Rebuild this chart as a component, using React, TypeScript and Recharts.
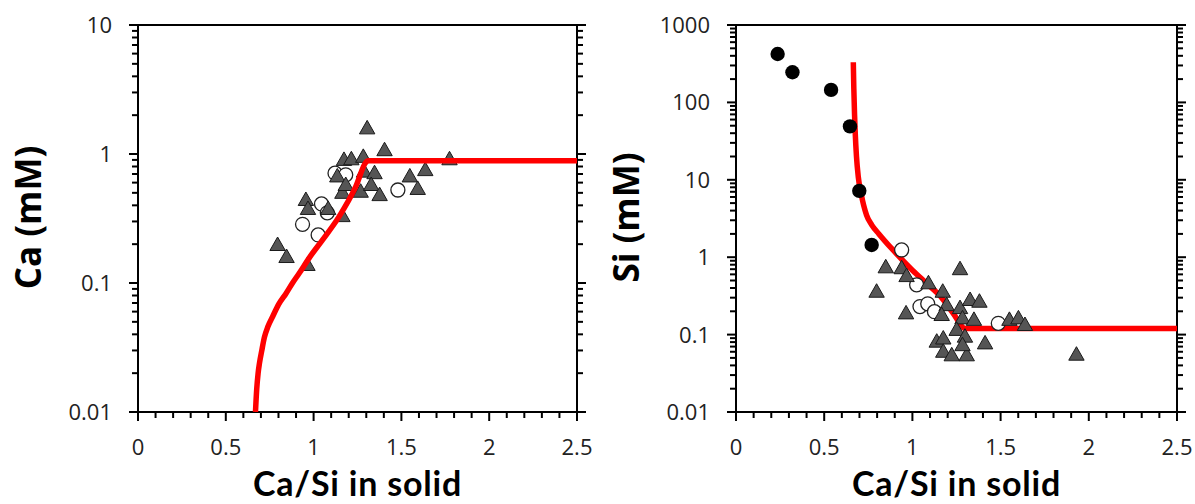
import React from 'react';
import { ScatterChart, Scatter, XAxis, YAxis, Label } from 'recharts';

// x axis: Ca/Si in solid (labelled every 0.5, minor ticks every 0.1)
const xLabels = [0, 0.5, 1, 1.5, 2, 2.5];
const caDecades = [0.01, 0.1, 1, 10];
const siDecades = [0.01, 0.1, 1, 10, 100, 1000];

// Ca panel
const caTriangles = [
  { x: 0.795, y: 0.197 }, { x: 0.846, y: 0.159 }, { x: 0.965, y: 0.138 },
  { x: 0.956, y: 0.44 }, { x: 0.968, y: 0.375 }, { x: 1.083, y: 0.375 },
  { x: 1.164, y: 0.33 }, { x: 1.135, y: 0.67 }, { x: 1.164, y: 0.5 },
  { x: 1.183, y: 0.575 }, { x: 1.173, y: 0.9 }, { x: 1.215, y: 0.91 },
  { x: 1.283, y: 0.95 }, { x: 1.268, y: 0.51 }, { x: 1.287, y: 0.73 },
  { x: 1.347, y: 0.71 }, { x: 1.328, y: 0.575 }, { x: 1.376, y: 0.48 },
  { x: 1.305, y: 1.58 }, { x: 1.404, y: 1.07 }, { x: 1.548, y: 0.67 },
  { x: 1.636, y: 0.75 }, { x: 1.593, y: 0.536 }, { x: 1.774, y: 0.91 },
];
const caCircles = [
  { x: 1.122, y: 0.71 }, { x: 1.183, y: 0.69 }, { x: 1.48, y: 0.526 },
  { x: 1.045, y: 0.41 }, { x: 0.937, y: 0.285 }, { x: 1.026, y: 0.236 },
  { x: 1.078, y: 0.35 },
];
const caModel = [
  { x: 0.669, y: 0.01 }, { x: 0.676, y: 0.015 }, { x: 0.684, y: 0.02 },
  { x: 0.692, y: 0.024 }, { x: 0.705, y: 0.03 }, { x: 0.72, y: 0.038 },
  { x: 0.74, y: 0.046 }, { x: 0.767, y: 0.055 }, { x: 0.8, y: 0.068 },
  { x: 0.843, y: 0.083 }, { x: 0.88, y: 0.1 }, { x: 0.918, y: 0.119 },
  { x: 0.98, y: 0.16 }, { x: 1.05, y: 0.215 }, { x: 1.145, y: 0.327 },
  { x: 1.24, y: 0.558 }, { x: 1.3, y: 0.87 }, { x: 1.31, y: 0.885 },
  { x: 2.5, y: 0.885 },
];

// Si panel
const siTriangles = [
  { x: 0.849, y: 0.74 }, { x: 0.797, y: 0.358 }, { x: 0.939, y: 0.72 },
  { x: 0.967, y: 0.57 }, { x: 0.964, y: 0.188 }, { x: 1.091, y: 0.46 },
  { x: 1.172, y: 0.358 }, { x: 1.27, y: 0.7 }, { x: 1.194, y: 0.24 },
  { x: 1.27, y: 0.22 }, { x: 1.327, y: 0.28 }, { x: 1.38, y: 0.266 },
  { x: 1.166, y: 0.179 }, { x: 1.284, y: 0.162 }, { x: 1.349, y: 0.155 },
  { x: 1.251, y: 0.115 }, { x: 1.298, y: 0.094 }, { x: 1.138, y: 0.081 },
  { x: 1.175, y: 0.089 }, { x: 1.412, y: 0.077 }, { x: 1.175, y: 0.06 },
  { x: 1.223, y: 0.054 }, { x: 1.308, y: 0.054 }, { x: 1.284, y: 0.073 },
  { x: 1.55, y: 0.155 }, { x: 1.601, y: 0.162 }, { x: 1.638, y: 0.133 },
  { x: 1.93, y: 0.055 },
];
const siOpen = [
  { x: 0.939, y: 1.24 }, { x: 1.024, y: 0.44 }, { x: 1.043, y: 0.23 },
  { x: 1.087, y: 0.25 }, { x: 1.125, y: 0.198 }, { x: 1.487, y: 0.14 },
];
const siFilled = [
  { x: 0.236, y: 422 }, { x: 0.32, y: 245 }, { x: 0.539, y: 145 },
  { x: 0.646, y: 49 }, { x: 0.699, y: 7.2 }, { x: 0.769, y: 1.44 },
];
const siModel = [
  { x: 0.665, y: 330 }, { x: 0.668, y: 150 }, { x: 0.672, y: 70 },
  { x: 0.676, y: 40 }, { x: 0.683, y: 20 }, { x: 0.693, y: 11 },
  { x: 0.71, y: 6.5 }, { x: 0.74, y: 3.5 }, { x: 0.77, y: 2.6 },
  { x: 0.81, y: 2.0 }, { x: 0.89, y: 1.24 }, { x: 1.0, y: 0.68 },
  { x: 1.08, y: 0.46 }, { x: 1.16, y: 0.31 }, { x: 1.23, y: 0.19 },
  { x: 1.3, y: 0.12 }, { x: 2.5, y: 0.12 },
];

const FONT = '"Open Sans", "Noto Sans", sans-serif';
const TITLE_FONT = 'Lato, "Open Sans", sans-serif';

const xTicks = Array.from({ length: 26 }, (_, i) => i / 10);
const isXLabel = (v: number) => xLabels.some((l) => Math.abs(l - v) < 1e-6);

function logTicks(decades: number[]) {
  const out: number[] = [];
  decades.forEach((d, i) => {
    if (i === decades.length - 1) {
      out.push(d);
      return;
    }
    for (let m = 1; m < 10; m++) out.push(Number((m * d).toPrecision(3)));
  });
  return out;
}

const isDecade = (v: number, decades: number[]) => decades.some((d) => Math.abs(v / d - 1) < 1e-6);

const tickText = { fontSize: 22, fill: '#222', fontFamily: FONT };

function BottomTick({ x, y, payload }: any) {
  const major = isXLabel(payload.value);
  return (
    <g>
      <line x1={x} x2={x} y1={y} y2={y + (major ? 9 : 6)} stroke="#000" strokeWidth={2} />
      {major && (
        <text x={x} y={y + 43} textAnchor="middle" {...tickText}>
          {String(payload.value)}
        </text>
      )}
    </g>
  );
}

function TopTick({ x, y, payload }: any) {
  const major = isXLabel(payload.value);
  return <line x1={x} x2={x} y1={y} y2={y - (major ? 9 : 6)} stroke="#000" strokeWidth={2} />;
}

function makeLeftTick(decades: number[]) {
  return ({ x, y, payload }: any) => {
    const major = isDecade(payload.value, decades);
    return (
      <g>
        <line x1={x - (major ? 9 : 6)} x2={x} y1={y} y2={y} stroke="#000" strokeWidth={2} />
        {major && (
          <text x={x - 26} y={y + 8} textAnchor="end" {...tickText}>
            {String(payload.value)}
          </text>
        )}
      </g>
    );
  };
}

function makeRightTick(decades: number[]) {
  return ({ x, y, payload }: any) => {
    const major = isDecade(payload.value, decades);
    return <line x1={x} x2={x + (major ? 9 : 6)} y1={y} y2={y} stroke="#000" strokeWidth={2} />;
  };
}

const Triangle = ({ cx, cy }: any) => (
  <polygon
    points={`${cx},${cy - 8} ${cx - 7.7},${cy + 5.5} ${cx + 7.7},${cy + 5.5}`}
    fill="#555"
    stroke="#1a1a1a"
    strokeWidth={1}
  />
);
const OpenCircle = ({ cx, cy }: any) => (
  <circle cx={cx} cy={cy} r={7} fill="#fff" stroke="#222" strokeWidth={1.3} />
);
const FilledCircle = ({ cx, cy }: any) => <circle cx={cx} cy={cy} r={7.2} fill="#000" />;
const NoDot = () => <g />;

const redLine = { stroke: '#ff0000', strokeWidth: 5.5, strokeLinejoin: 'round' as const };

const YTitle = (text: string) => (props: any) => {
  const vb = props.viewBox;
  const cx = vb.x - 50.5;
  const cy = vb.y + vb.height / 2 - 1;
  return (
    <text
      x={cx}
      y={cy}
      transform={`rotate(-90 ${cx} ${cy})`}
      textAnchor="middle"
      dominantBaseline="central"
      fontSize={35}
      fontWeight={700}
      fontFamily={FONT}
      fill="#000"
    >
      {text}
    </text>
  );
};

const XTitle = (props: any) => {
  const vb = props.viewBox;
  return (
    <text
      x={vb.x + vb.width / 2}
      y={vb.y + 84}
      textAnchor="middle"
      fontSize={34}
      fontWeight={700}
      letterSpacing={0.8}
      fontFamily={TITLE_FONT}
      fill="#000"
    >
      Ca/Si in solid
    </text>
  );
};

function axes(decades: number[], title: string) {
  const yTicks = logTicks(decades);
  const domain = [decades[0], decades[decades.length - 1]];
  const axisLine = { stroke: '#000', strokeWidth: 2 };
  return [
    <XAxis key="xb" type="number" dataKey="x" domain={[0, 2.5]} ticks={xTicks} interval={0}
      tickSize={0} tickMargin={0} tickLine={false} axisLine={axisLine} height={40}
      tick={<BottomTick />} allowDataOverflow>
      <Label content={XTitle} />
    </XAxis>,
    <XAxis key="xt" xAxisId="top" orientation="top" type="number" domain={[0, 2.5]} ticks={xTicks}
      interval={0} tickSize={0} tickMargin={0} tickLine={false} axisLine={axisLine} height={10}
      tick={<TopTick />} allowDataOverflow />,
    <YAxis key="yl" type="number" dataKey="y" scale="log" domain={domain} ticks={yTicks} interval={0}
      tickSize={0} tickMargin={0} tickLine={false} axisLine={axisLine} width={60}
      tick={makeLeftTick(decades)} allowDataOverflow>
      <Label content={YTitle(title)} />
    </YAxis>,
    <YAxis key="yr" yAxisId="right" orientation="right" type="number" scale="log" domain={domain}
      ticks={yTicks} interval={0} tickSize={0} tickMargin={0} tickLine={false} axisLine={axisLine}
      width={10} tick={makeRightTick(decades)} allowDataOverflow />,
  ];
}

export default function App() {
  return (
    <div style={{ position: 'absolute', left: 0, top: 0, width: 1195, height: 504, background: '#fff' }}>
      <div style={{ position: 'absolute', left: 0, top: 0 }}>
        <ScatterChart width={600} height={504} margin={{ top: 15, right: 13, bottom: 52, left: 78 }}>
          {axes(caDecades, 'Ca (mM)')}
          <Scatter data={caCircles} shape={<OpenCircle />} isAnimationActive={false} />
          <Scatter data={caTriangles} shape={<Triangle />} isAnimationActive={false} />
          <Scatter data={caModel} line={redLine} lineJointType="monotoneX" shape={<NoDot />} isAnimationActive={false} />
        </ScatterChart>
      </div>
      <div style={{ position: 'absolute', left: 600, top: 0 }}>
        <ScatterChart width={595} height={504} margin={{ top: 15, right: 8, bottom: 52, left: 76 }}>
          {axes(siDecades, 'Si (mM)')}
          <Scatter data={siModel} line={redLine} lineJointType="monotoneX" shape={<NoDot />} isAnimationActive={false} />
          <Scatter data={siOpen} shape={<OpenCircle />} isAnimationActive={false} />
          <Scatter data={siTriangles} shape={<Triangle />} isAnimationActive={false} />
          <Scatter data={siFilled} shape={<FilledCircle />} isAnimationActive={false} />
        </ScatterChart>
      </div>
    </div>
  );
}
